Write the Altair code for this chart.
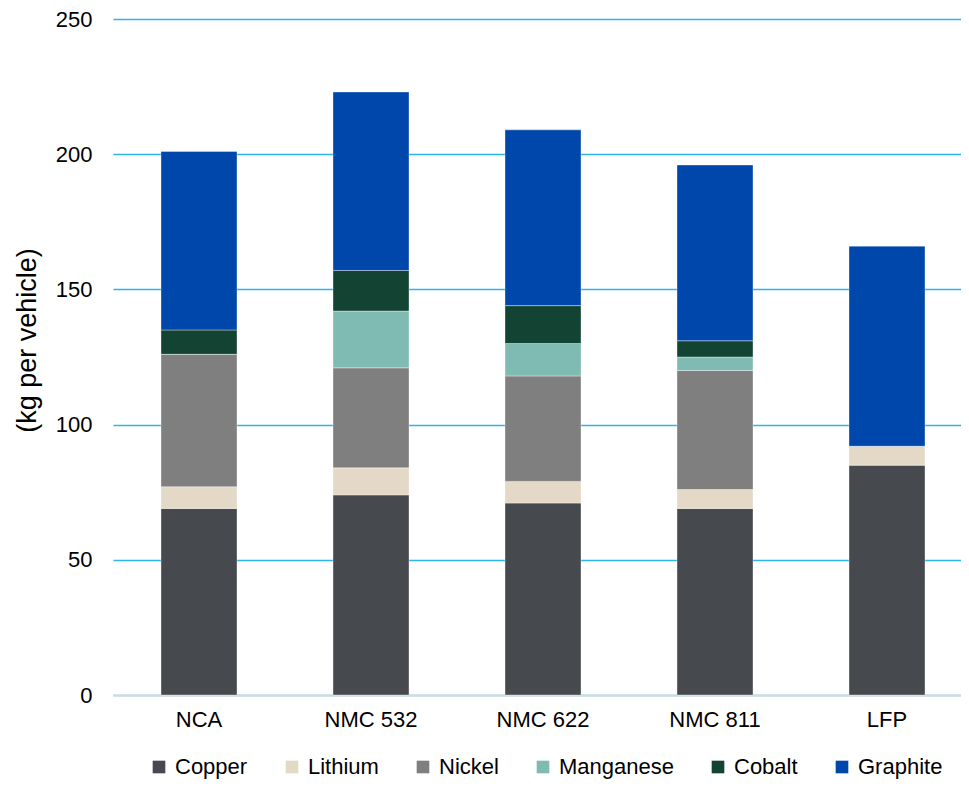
import altair as alt
import pandas as pd

chemistries = ["NCA", "NMC 532", "NMC 622", "NMC 811", "LFP"]
materials = ["Copper", "Lithium", "Nickel", "Manganese", "Cobalt", "Graphite"]
colors = ["#464a4f", "#e3d9c6", "#7f7f7f", "#7fbab3", "#124333", "#0047ab"]

copper = [69, 74, 71, 69, 85]
lithium = [8, 10, 8, 7, 7]
nickel = [49, 37, 39, 44, 0]
manganese = [0, 21, 12, 5, 0]
cobalt = [9, 15, 14, 6, 0]
graphite = [66, 66, 65, 65, 74]

series = [copper, lithium, nickel, manganese, cobalt, graphite]
rows = []
for mi, (m, vals) in enumerate(zip(materials, series)):
    for c, v in zip(chemistries, vals):
        rows.append({"chem": c, "material": m, "value": v, "order": mi})
df = pd.DataFrame(rows)

FONT = "Liberation Sans"

chart = alt.Chart(df).mark_bar(size=76, stroke="#ffffff", strokeWidth=0.6, strokeOpacity=0.6).encode(
    x=alt.X("chem:N", sort=chemistries, title=None,
            scale=alt.Scale(paddingInner=0, paddingOuter=0, range=[0, 860]),
            axis=alt.Axis(labelAngle=0, ticks=False, labelPadding=14, labelFontSize=22,
                          labelFont=FONT, labelColor="#000000", domainColor="#d9d9d9",
                          domainWidth=2, grid=False)),
    y=alt.Y("value:Q", stack="zero", title="(kg per vehicle)",
            scale=alt.Scale(domain=[0, 250], nice=False),
            axis=alt.Axis(values=[0, 50, 100, 150, 200, 250], ticks=False, domain=False,
                          labelPadding=21, labelFontSize=22, labelFont=FONT,
                          labelColor="#000000", gridColor="#2cb5ea", gridWidth=1.5,
                          titleFontSize=27, titleFont=FONT, titleFontWeight="normal",
                          titleColor="#000000", titleX=-86, titleY=321, titleAngle=-90,
                          titleAlign="center", titleBaseline="middle")),
    color=alt.Color("material:N", sort=materials,
                    scale=alt.Scale(domain=materials, range=colors),
                    legend=alt.Legend(title=None, orient="none", direction="horizontal",
                                      legendX=35, legendY=737, symbolType="square",
                                      symbolSize=160, symbolStrokeWidth=0,
                                      labelFontSize=22, labelFont=FONT, labelColor="#000000",
                                      columnPadding=33, labelOffset=5)),
    order=alt.Order("order:Q", sort="ascending"),
).properties(
    width=848, height=676,
    autosize=alt.AutoSizeParams(type="none"),
    padding={"left": 105, "top": 11, "right": 0, "bottom": 84},
).configure_view(stroke=None)

chart.save("out.html", embed_options={"renderer": "svg", "actions": False})
